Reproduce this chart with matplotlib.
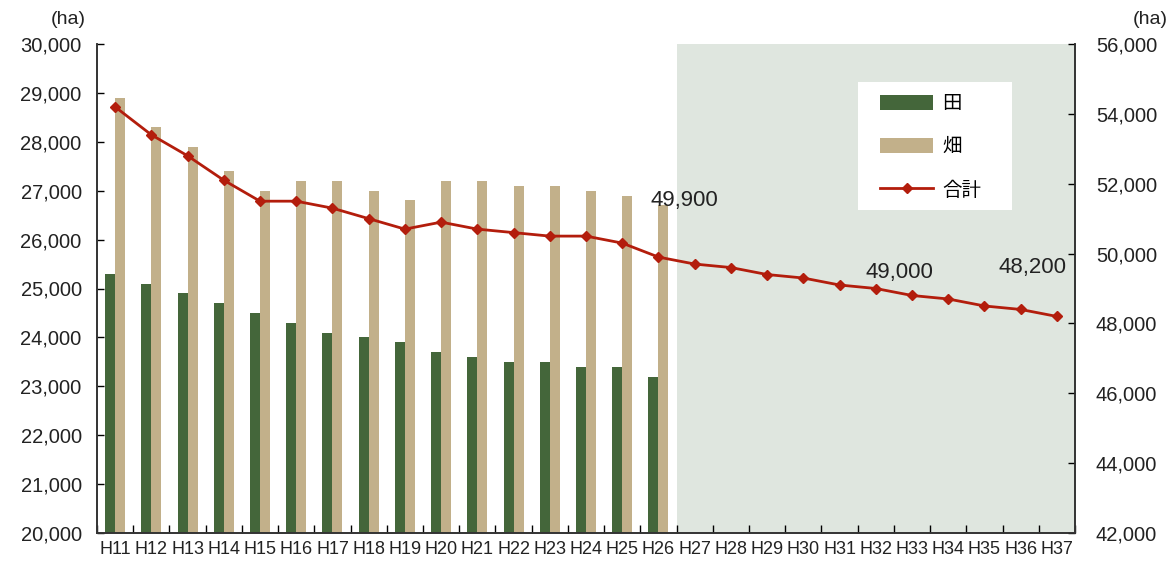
import matplotlib
matplotlib.use("Agg")
import matplotlib.pyplot as plt
import numpy as np
from matplotlib.lines import Line2D
from matplotlib.patches import Patch, Rectangle

categories = ["H11", "H12", "H13", "H14", "H15", "H16", "H17", "H18", "H19", "H20",
              "H21", "H22", "H23", "H24", "H25", "H26", "H27", "H28", "H29", "H30",
              "H31", "H32", "H33", "H34", "H35", "H36", "H37"]
paddy = [25300, 25100, 24900, 24700, 24500, 24300, 24100, 24000, 23900, 23700,
         23600, 23500, 23500, 23400, 23400, 23200]
field = [28900, 28300, 27900, 27400, 27000, 27200, 27200, 27000, 26800, 27200,
         27200, 27100, 27100, 27000, 26900, 26700]
total = [54200, 53400, 52800, 52100, 51500, 51500, 51300, 51000, 50700, 50900,
         50700, 50600, 50500, 50500, 50300, 49900, 49700, 49600, 49400, 49300,
         49100, 49000, 48800, 48700, 48500, 48400, 48200]
annotations = {"H26": "49,900", "H32": "49,000", "H37": "48,200"}
left_ticks = list(range(20000, 30001, 1000))
right_ticks = list(range(42000, 56001, 2000))

GREEN = "#44663a"
TAN = "#c2b08a"
RED = "#b31d0c"
SHADE = "#dfe6df"
TXT = "#222222"

plt.rcParams['font.family'] = ['Liberation Sans', 'Noto Sans CJK JP', 'DejaVu Sans']

W, H = 1170, 564
fig = plt.figure(figsize=(W/100, H/100), dpi=100)
ax = fig.add_axes([97/W, 31/H, 978/W, 489/H])
ax2 = ax.twinx()

n = len(categories)
x = np.arange(n)
nb = len(paddy)
w = 0.276

ax.axvspan(nb - 0.5, n - 0.5, color=SHADE, zorder=0, lw=0)
ax.bar(x[:nb] - w/2, paddy, width=w, color=GREEN, zorder=2)
ax.bar(x[:nb] + w/2, field, width=w, color=TAN, zorder=2)

ax2.plot(x, total, color=RED, lw=2, marker="D", markersize=5.5, zorder=5)

offsets = {"H26": (0.72, 1630), "H32": (0.64, 445), "H37": (-0.66, 1415)}
for cat, txt in annotations.items():
    i = categories.index(cat)
    dx, dy = offsets[cat]
    ax2.text(i + dx, total[i] + dy, txt, fontsize=16, ha="center", va="center", color=TXT)

ax.set_xlim(-0.5, n - 0.5)
ax.set_ylim(20000, 30000)
ax2.set_ylim(42000, 56000)
ax.set_yticks(left_ticks)
ax.set_yticklabels([f"{v:,}" for v in left_ticks], fontsize=14.5, color=TXT)
ax2.set_yticks(right_ticks)
ax2.set_yticklabels([f"{v:,}" for v in right_ticks], fontsize=14.5, color=TXT)

ax.set_xticks(x)
ax.set_xticklabels(categories, fontsize=13, color=TXT)
ax.set_xticks(np.arange(-0.5, n, 1.0), minor=True)
ax.tick_params(axis="x", which="major", length=0, pad=6)
ax.tick_params(axis="x", which="minor", direction="in", length=6, width=1)
ax.tick_params(axis="y", direction="in", length=5, width=1, pad=11)
ax2.tick_params(axis="y", direction="in", length=5, width=1, pad=15)

for a in (ax, ax2):
    a.spines["top"].set_visible(False)
    for s in ("left", "right", "bottom"):
        a.spines[s].set_linewidth(1.2)
        a.spines[s].set_color("#333333")

fig.text(86/W, 1 - 20/H, "(ha)", fontsize=14, ha="right", va="center", color=TXT)
fig.text(1168/W, 1 - 20/H, "(ha)", fontsize=14, ha="right", va="center", color=TXT)

# white legend box
ax2.add_patch(Rectangle((858/W, 1 - 210/H), 154/W, 128/H, transform=fig.transFigure,
                        facecolor="white", edgecolor="none", zorder=4, clip_on=False))

handles = [Patch(facecolor=GREEN, label="田"),
           Patch(facecolor=TAN, label="畑"),
           Line2D([0], [0], color=RED, lw=2, marker="D", markersize=5.5, label="合計")]
leg = ax2.legend(handles=handles, loc="upper left", bbox_to_anchor=(880/W, 1 - 93/H),
                 bbox_transform=fig.transFigure, frameon=False,
                 prop={'family': ['Noto Sans CJK JP'], 'size': 14},
                 borderpad=0, labelspacing=1.15, handlelength=2.75, handleheight=0.85,
                 handletextpad=0.45, borderaxespad=0)
leg.set_zorder(6)

fig.savefig("out.png", dpi=100)
